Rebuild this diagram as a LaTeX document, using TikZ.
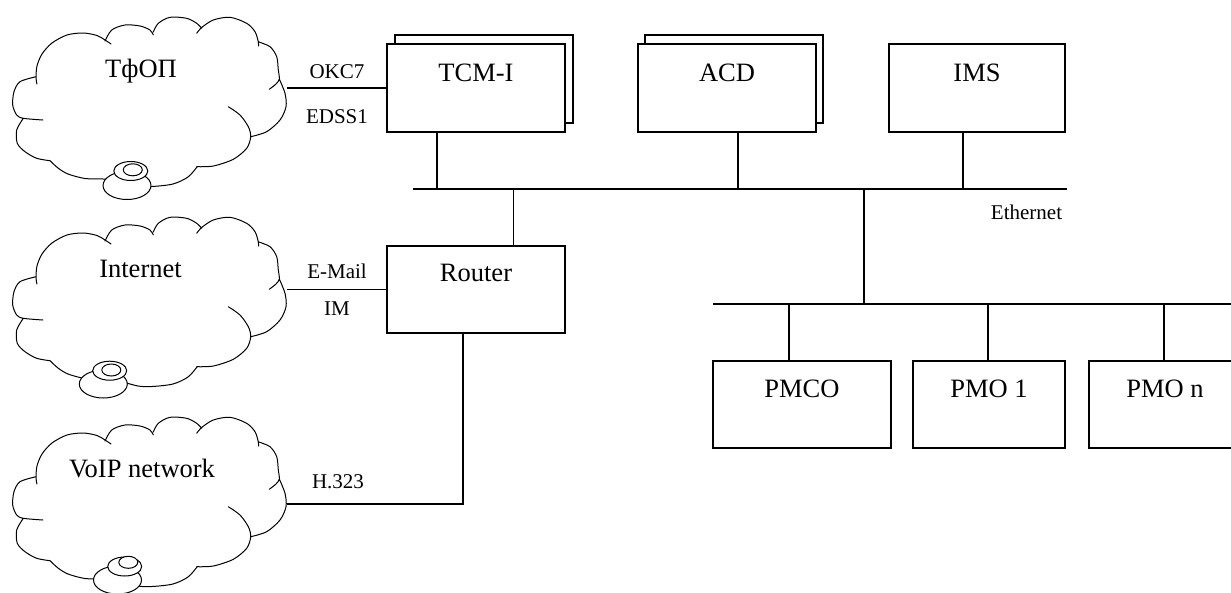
\documentclass[tikz,border=0pt]{standalone}
\usepackage{fontspec}
\setmainfont{Liberation Serif}

% three stacked ellipses sitting on the rim of a network cloud
\newcommand\handset[6]{%
  \filldraw[cloudline, fill=white] (#1,#2) ellipse [x radius=24pt, y radius=14pt];
  \filldraw[cloudline, fill=white] (#3,#4) ellipse [x radius=17pt, y radius=9.5pt];
  \filldraw[cloudline, fill=white] (#5,#6) ellipse [x radius=9.5pt, y radius=6pt];
}

\tikzset{
  cloudline/.style={line width=1pt, line join=round, line cap=round},
  pics/netcloud/.style={code={
    \draw[cloudline]
      plot[smooth] coordinates {(111,44) (105,40) (97,35.5) (83,33) (67,35) (52,43) (42,54) (37,66) (36,78) (37,84)}
      plot[smooth] coordinates {(36,76.7) (20,81.7) (14,91.7) (12.7,105) (16.7,115) (23.3,118.3) (43,120)}
      plot[smooth] coordinates {(23.3,118.3) (16.7,130) (17.3,143.3) (25,151.7) (36.7,158.3) (50,160.7)}
      plot[smooth] coordinates {(50,160.7) (58,168) (68,174) (85,178.5) (103,179) (120,181)}
      plot[smooth] coordinates {(120,181) (138,186) (152,186.5) (173,184) (188,177) (197,167)}
      plot[smooth] coordinates {(196.7,166.7) (213.3,166) (233.3,159.3) (246.7,148.3) (250.7,136.7) (248.3,126.7) (240,115) (228.3,106.7)}
      plot[smooth] coordinates {(250.7,136.7) (266.7,131.7) (280,120) (286,106.7) (285,93.3) (279.3,79)}
      plot[smooth] coordinates {(258,41.7) (270,46.7) (276.7,56.7) (278.3,70) (279.3,79) (276,84) (269.3,89.3)}
      plot[smooth] coordinates {(196.7,33.3) (201.7,27.5) (213.3,20) (230,17.3) (246.7,23.3) (255,31.7) (258.3,41.7) (258.5,46)}
      plot[smooth] coordinates {(153.3,32) (158.3,23.3) (170,17.3) (186.7,18.3) (196.7,23.3) (201.7,28.3)}
      plot[smooth] coordinates {(105,41) (111.7,30) (125,25) (140,26) (150,30) (153.3,35)};
  }}
}

\begin{document}
\begin{tikzpicture}[x=1pt, y=-1pt,
  wire/.style={line width=1.1pt},
  unit/.style={draw, line width=1.1pt, fill=white, minimum width=178pt,
    minimum height=88pt, inner sep=0pt, outer sep=0pt},
  bigtext/.style={font=\fontsize{26.5}{30}\selectfont, inner sep=0pt, anchor=base},
  smalltext/.style={font=\fontsize{21}{24}\selectfont, inner sep=0pt, anchor=base},
]
\useasboundingbox (0,0) rectangle (1231,592);
\clip (0,0) rectangle (1231,592);

% ---- external networks ----
\pic at (0,0) {netcloud};
\pic at (0,200) {netcloud};
\pic at (0,400) {netcloud};
\handset{127}{185.5}{130.8}{171}{132.8}{169.8}
\handset{103.3}{384}{109.7}{370.7}{111.3}{370}
\handset{117.5}{580}{124.7}{566.5}{128.3}{562.3}

\node[bigtext] (pstn-name) at (141,77.5) {ТфОП};
\node[bigtext] (inet-name) at (140.5,277.5) {Internet};
\node[bigtext] (voip-name) at (142,477.5) {VoIP network};

\coordinate (pstn-port) at (287,88);
\coordinate (inet-port) at (287,289.5);
\coordinate (voip-port) at (287,504);

% ---- servers on the upper segment ----
\node[unit] (tcm-back) at (484,79) {};
\node[unit] (tcm) at (476,88) {};
\node[unit] (acd-back) at (734,79) {};
\node[unit] (acd) at (727,88) {};
\node[unit, minimum width=176pt] (ims) at (977,88) {};
\node[unit, minimum height=87pt] (router) at (476,289.5) {};

\node[bigtext] (tcm-name) at ([yshift=-37pt]tcm.north) {TCM-I};
\node[bigtext] (acd-name) at ([yshift=-37pt]acd.north) {ACD};
\node[bigtext] (ims-name) at ([yshift=-37pt]ims.north) {IMS};
\node[bigtext] (router-name) at ([yshift=-35pt]router.north) {Router};

% ---- operator workplaces ----
\node[unit, minimum height=87pt] (pmco) at (802,404.5) {};
\node[unit, minimum width=152pt, minimum height=87pt] (pmo1) at (989,404.5) {};
\node[unit, minimum width=152pt, minimum height=87pt] (pmon) at (1165,404.5) {};
\node[bigtext] (pmco-name) at ([yshift=-36pt]pmco.north) {PMCO};
\node[bigtext] (pmo1-name) at ([yshift=-36pt]pmo1.north) {PMO 1};
\node[bigtext] (pmon-name) at ([yshift=-36pt]pmon.north) {PMO n};

% ---- Ethernet segments ----
\coordinate (bus-l) at (413,189);
\coordinate (bus-r) at (1067,189);
\coordinate (lan-l) at (713,304);
\coordinate (lan-r) at (1240,304);
\draw[wire] (bus-l) -- (bus-r);
\draw[wire] (lan-l) -- (lan-r);
\node[smalltext] (eth-name) at (1026.5,219) {Ethernet};

\coordinate (tcm-tap) at ([xshift=-39pt]tcm.south);
\coordinate (acd-tap) at ([xshift=11pt]acd.south);
\coordinate (ims-tap) at ([xshift=-14pt]ims.south);
\coordinate (rt-up) at ([xshift=37.5pt]router.north);
\coordinate (rt-down) at ([xshift=-13pt]router.south);
\coordinate (eth-tap) at (864,189);
\coordinate (pmco-tap) at ([xshift=-13pt]pmco.north);
\coordinate (pmo1-tap) at ([xshift=-1pt]pmo1.north);
\coordinate (pmon-tap) at ([xshift=-1pt]pmon.north);

\draw[wire] (tcm-tap) -- (tcm-tap |- bus-l);
\draw[wire] (acd-tap) -- (acd-tap |- bus-l);
\draw[wire] (ims-tap) -- (ims-tap |- bus-l);
\draw[wire] (rt-up) -- (rt-up |- bus-l);
\draw[wire] (eth-tap) -- (eth-tap |- lan-l);
\draw[wire] (pmco-tap) -- (pmco-tap |- lan-l);
\draw[wire] (pmo1-tap) -- (pmo1-tap |- lan-l);
\draw[wire] (pmon-tap) -- (pmon-tap |- lan-l);

% ---- links to the external networks ----
\draw[wire] (pstn-port) -- (pstn-port -| tcm.west);
\draw[wire] (inet-port) -- (inet-port -| router.west);
\draw[wire] (rt-down) |- (voip-port);

\node[smalltext] (ss7) at (337,78.3) {OKC7};
\node[smalltext] (edss) at (337,123) {EDSS1};
\node[smalltext] (mail) at (337,278) {E-Mail};
\node[smalltext] (im) at (337,315) {IM};
\node[smalltext] (h323) at (338,488) {H.323};
\end{tikzpicture}
\end{document}
